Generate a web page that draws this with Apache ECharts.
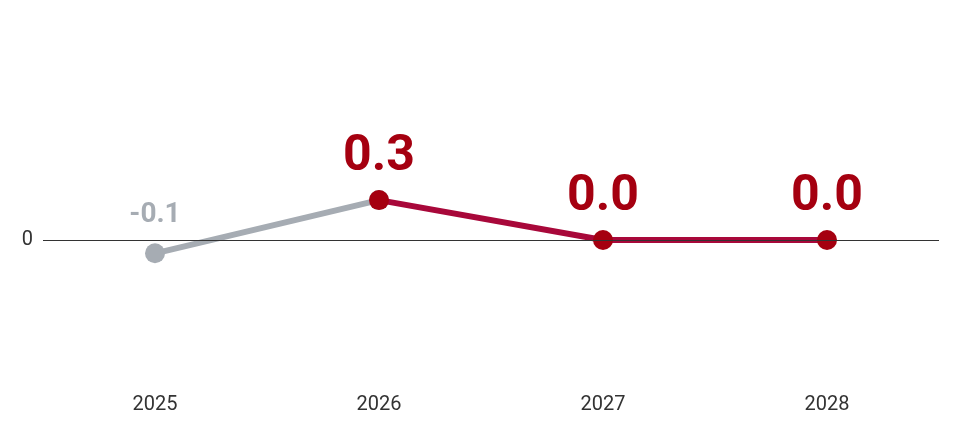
<!DOCTYPE html>
<html><head><meta charset="utf-8">
<script src="https://cdn.jsdelivr.net/npm/echarts@6/dist/echarts.min.js"></script>
<style>html,body{margin:0;padding:0;background:#fff}#c{width:960px;height:439px}</style>
</head><body><div id="c"></div>
<script>
const categories = ['2025','2026','2027','2028'];
const pastValues = [-0.1, 0.3, null, null];
const forecastValues = [null, 0.3, 0.0, 0.0];
const chart = echarts.init(document.getElementById('c'));
chart.setOption({
  animation:false,
  grid:{left:43,right:21,top:107,bottom:66,containLabel:false,outerBoundsMode:'none'},
  xAxis:{type:'category',data:categories,boundaryGap:true,
    axisLine:{show:false,onZero:false},axisTick:{show:false},
    axisLabel:{margin:22,color:'#333',fontSize:20,fontFamily:'Roboto'}},
  yAxis:{type:'value',min:-1,max:1,interval:1,splitLine:{show:false},axisLine:{show:false},axisTick:{show:false},
    axisLabel:{color:'#333',fontSize:20,fontFamily:'Roboto',margin:10,formatter:v=>v===0?'0':''}},
  series:[
    {type:'line',data:pastValues,z:2,lineStyle:{color:'#a6acb3',width:6},
     itemStyle:{color:'#a6acb3'},symbol:'circle',symbolSize:20,
     markLine:{silent:true,symbol:'none',label:{show:false},lineStyle:{color:'#333',width:1,type:'solid'},data:[{yAxis:0}]},
     label:{show:true,position:'top',distance:14,color:'#a6acb3',fontWeight:'bold',fontSize:28,fontFamily:'Roboto',
       formatter:p=>p.dataIndex===0?p.value.toFixed(1):''}},
    {type:'line',data:forecastValues,z:3,lineStyle:{color:'#a8083a',width:6},
     itemStyle:{color:'#a50010'},symbol:'circle',symbolSize:20,
     label:{show:true,position:'top',distance:8,color:'#a50010',fontWeight:'bold',fontSize:50,fontFamily:'Roboto',
       formatter:p=>p.value.toFixed(1)}}
  ]
});
</script></body></html>
